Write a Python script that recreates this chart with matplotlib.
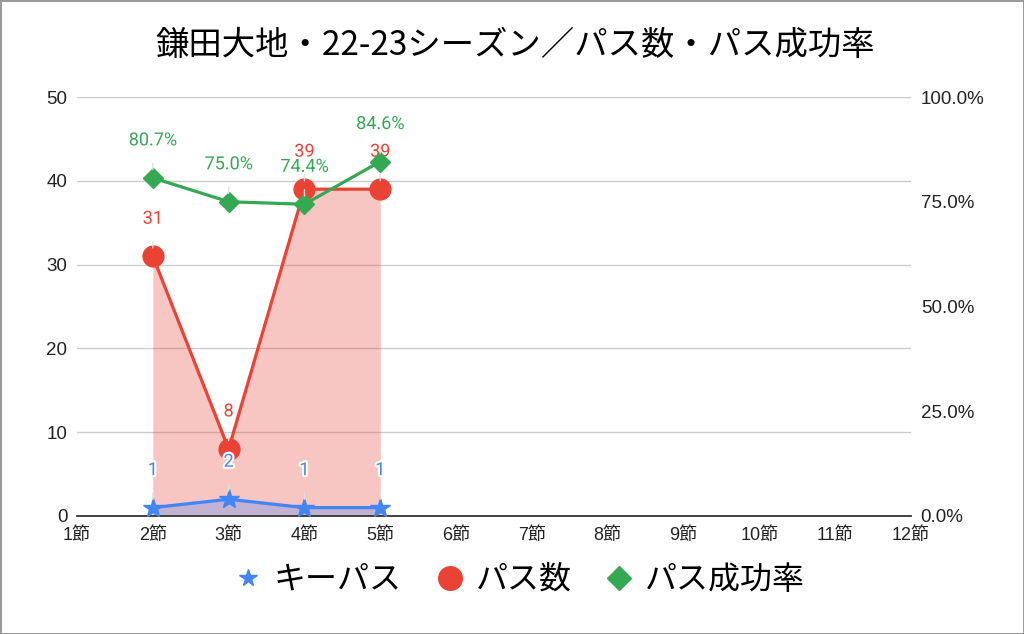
import matplotlib
matplotlib.use("Agg")
import matplotlib.pyplot as plt
import matplotlib.patheffects as pe
from matplotlib.lines import Line2D
from matplotlib.ticker import FuncFormatter

plt.rcParams['font.family'] = ['Liberation Sans', 'Noto Sans CJK JP', 'DejaVu Sans']
CJK = ['Noto Sans CJK JP', 'DejaVu Sans']
LABEL_FONT = ['Roboto', 'DejaVu Sans']

title = "鎌田大地・22-23シーズン／パス数・パス成功率"
rounds = [f"{i}節" for i in range(1, 13)]
played = [2, 3, 4, 5]
key_passes = [1, 2, 1, 1]
passes = [31, 8, 39, 39]
pass_rate = [80.7, 75.0, 74.4, 84.6]
left_ticks = [0, 10, 20, 30, 40, 50]
right_ticks = [0, 25, 50, 75, 100]
legend_labels = ['キーパス', 'パス数', 'パス成功率']

BLUE = '#4285f4'
RED = '#ea4335'
GREEN = '#34a853'

fig = plt.figure(figsize=(10.24, 6.34), dpi=100, edgecolor='#9a9a9a', linewidth=2)
ax = fig.add_axes([77/1024, 1-516/634, (911-77)/1024, (516-97)/634])
ax2 = ax.twinx()

ax.set_xlim(1, 12)
ax.set_ylim(0, 50)
ax2.set_ylim(0, 100)
ax.set_xticks(range(1, 13))
ax.set_xticklabels(rounds, fontsize=13)
ax.set_yticks(left_ticks)
ax.tick_params(axis='y', labelsize=13.5, length=0, pad=7, labelcolor='#222222')
ax.tick_params(axis='x', length=0, pad=8, labelcolor='#222222')
ax2.set_yticks(right_ticks)
ax2.yaxis.set_major_formatter(FuncFormatter(lambda v, p: f"{v:.1f}%"))
ax2.tick_params(axis='y', labelsize=13.5, length=0, pad=7, labelcolor='#222222')
for t in ax.get_yticklabels() + ax2.get_yticklabels():
    t.set_va('center_baseline')
ax.grid(axis='y', color='#cccccc', linewidth=1)
ax.set_axisbelow(True)
for a in (ax, ax2):
    for s in ('top', 'right', 'left', 'bottom'):
        a.spines[s].set_visible(False)
ax.spines['bottom'].set_visible(True)
ax.spines['bottom'].set_color('#333333')
ax.spines['bottom'].set_linewidth(1.3)

# areas
ax.fill_between(played, passes, 0, color=RED, alpha=0.3, linewidth=0, zorder=1)
ax.fill_between(played, key_passes, 0, color=BLUE, alpha=0.3, linewidth=0, zorder=1.5)

ax.plot(played, passes, color=RED, linewidth=2.3, marker='o', markersize=15, zorder=3)
ax.plot(played, key_passes, color=BLUE, linewidth=2.3, marker='*', markersize=15, zorder=4)
ax2.plot(played, pass_rate, color=GREEN, linewidth=2.3, marker='D', markersize=10, zorder=3)

halo = [pe.withStroke(linewidth=3, foreground='white')]

def label(a, x, y, txt, color, off=27):
    a.annotate(txt, xy=(x, y), xytext=(0, off), textcoords='offset points',
               ha='center', va='center', fontsize=13, color=color,
               family=LABEL_FONT, path_effects=halo, zorder=6,
               arrowprops=dict(arrowstyle='-', color='#e0e0e0', lw=1,
                               shrinkA=8, shrinkB=6))

for x, y in zip(played, key_passes):
    label(ax, x, y, str(y), BLUE)
for x, y in zip(played, passes):
    label(ax, x, y, str(y), RED)
for x, y in zip(played, pass_rate):
    label(ax2, x, y, f"{y:.1f}%", GREEN)

fig.text(0.503, 1-46/634, title, ha='center', va='center', fontsize=24, family=CJK)

handles = [
    Line2D([], [], linestyle='none', marker='*', color=BLUE, markersize=13),
    Line2D([], [], linestyle='none', marker='o', color=RED, markersize=17),
    Line2D([], [], linestyle='none', marker='D', color=GREEN, markersize=12),
]
fig.legend(handles, legend_labels, loc='center',
           bbox_to_anchor=(0.505, 1-580/634), ncol=3, frameon=False,
           prop={'family': CJK, 'size': 23}, handletextpad=0.2,
           columnspacing=0.9, handlelength=1.2)

fig.savefig('out.png', dpi=100)
